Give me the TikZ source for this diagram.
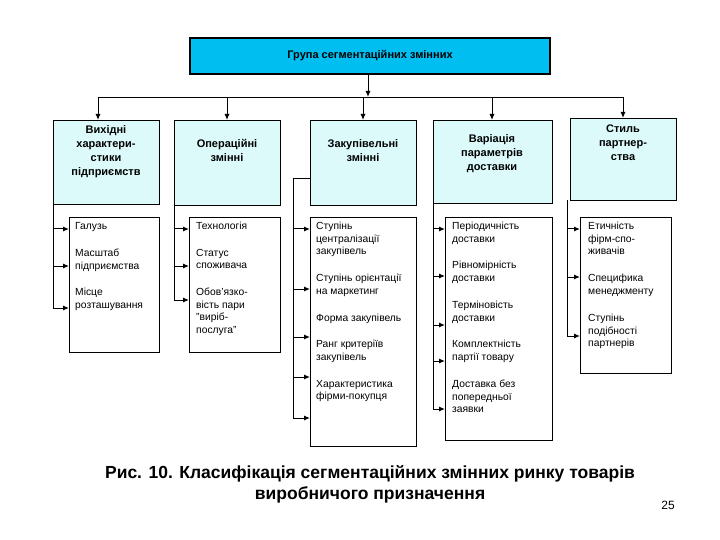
\documentclass[tikz,border=0pt]{standalone}
\usepackage{fontspec}
\setmainfont{Liberation Sans}
\usetikzlibrary{arrows.meta}
\definecolor{topc}{RGB}{0,190,240}
\definecolor{headc}{RGB}{220,250,250}
\begin{document}
\begin{tikzpicture}[x=1pt,y=-1pt,
  topbox/.style={draw,line width=1.4pt,fill=topc,minimum width=360pt,minimum height=36pt,font=\bfseries\fontsize{11}{13}\selectfont},
  headbox/.style={draw,fill=headc,line width=0.5pt,anchor=north west},
  htext/.style={anchor=north,align=center,font=\bfseries\fontsize{11}{14}\selectfont,inner sep=0pt},
  detbox/.style={draw,line width=0.5pt,anchor=north west},
  item/.style={anchor=north west,align=left,font=\fontsize{10.3}{12.5}\selectfont,inner sep=0pt},
  arr/.style={-{Latex[length=6pt,width=5pt]},line width=1pt},
  ln/.style={line width=0.8pt}]
\useasboundingbox (0,0) rectangle (720,540);
\node[topbox] (top) at (370,56) {Група сегментаційних змінних};
% header boxes
\node[headbox,minimum width=106pt,minimum height=84pt] (h1) at (53,120) {};
\node[headbox,minimum width=106pt,minimum height=85pt] (h2) at (174,120) {};
\node[headbox,minimum width=106pt,minimum height=85pt] (h3) at (310,120) {};
\node[headbox,minimum width=119pt,minimum height=83pt] (h4) at (433,120) {};
\node[headbox,minimum width=106pt,minimum height=82pt] (h5) at (570,118) {};
\node[htext] (ht1) at (106,125) {Вихідні\\характери-\\стики\\підприємств};
\node[htext] (ht2) at (227,139) {Операційні\\змінні};
\node[htext] (ht3) at (363,139) {Закупівельні\\змінні};
\node[htext] (ht4) at (492,134) {Варіація\\параметрів\\доставки};
\node[htext] (ht5) at (623,125) {Стиль\\партнер-\\ства};
% bus
\coordinate (bl) at (98,97);
\coordinate (br) at (623,97);
\coordinate (bm) at (368,97);
\draw[arr] (top.south -| bm) -- (bm);
\draw[ln] (bl) -- (br);
\draw[arr] (bl) -- (h1.north -| bl);
\draw[arr] (227,97) -- (h2.north -| 227,0);
\draw[arr] (363,97) -- (h3.north -| 363,0);
\draw[arr] (492,97) -- (h4.north -| 492,0);
\draw[arr] (br) -- (h5.north -| br);
% detail boxes
\node[detbox,minimum width=90pt,minimum height=135pt] (d1) at (69,217) {};
\node[detbox,minimum width=91pt,minimum height=135pt] (d2) at (189,217) {};
\node[detbox,minimum width=106pt,minimum height=229pt] (d3) at (310,217) {};
\node[detbox,minimum width=107pt,minimum height=223pt] (d4) at (445,217) {};
\node[detbox,minimum width=91pt,minimum height=156pt] (d5) at (580,217) {};
% column 1
\draw[ln] (53,204) -- (53,308);
\foreach \y in {229,266,308} \draw[arr] (53,\y) -- (69,\y);
\node[item] (t11) at (75,222) {Галузь};
\node[item] (t12) at (75,249) {Масштаб\\підприємства};
\node[item] (t13) at (75,288) {Місце\\розташування};
% column 2
\draw[ln] (174,205) -- (174,300);
\foreach \y in {229,266,300} \draw[arr] (174,\y) -- (189,\y);
\node[item] (t21) at (196,222) {Технологія};
\node[item] (t22) at (196,249) {Статус\\споживача};
\node[item] (t23) at (196,288) {Обов'язко-\\вість пари\\"виріб-\\послуга"};
% column 3
\draw[ln] (310,178) -- (293,178) -- (293,418);
\foreach \y in {229,289,337,377,418} \draw[arr] (293,\y) -- (310,\y);
\node[item] (t31) at (316,222) {Ступінь\\централізації\\закупівель};
\node[item] (t32) at (316,274) {Ступінь орієнтації\\на маркетинг};
\node[item] (t33) at (316,314) {Форма закупівель};
\node[item] (t34) at (316,340) {Ранг критеріїв\\закупівель};
\node[item] (t35) at (316,380) {Характеристика\\фірми-покупця};
% column 4
\draw[ln] (433,203) -- (433,409);
\foreach \y in {229,276,325,361,409} \draw[arr] (433,\y) -- (445,\y);
\node[item] (t41) at (452,222) {Періодичність\\доставки};
\node[item] (t42) at (452,261) {Рівномірність\\доставки};
\node[item] (t43) at (452,301) {Терміновість\\доставки};
\node[item] (t44) at (452,340) {Комплектність\\партії товару};
\node[item] (t45) at (452,380) {Доставка без\\попередньої\\заявки};
% column 5
\draw[ln] (567,200) -- (567,336);
\foreach \y in {229,277,336} \draw[arr] (567,\y) -- (580,\y);
\node[item] (t51) at (588,222) {Етичність\\фірм-спо-\\живачів};
\node[item] (t52) at (588,274) {Специфика\\менеджменту};
\node[item] (t53) at (588,314) {Ступінь\\подібності\\партнерів};
% caption
\node[font=\bfseries\fontsize{17.5}{21}\selectfont,align=center] (cap) at (370,484) {Рис. 10. Класифікація сегментаційних змінних ринку товарів\\виробничого призначення};
\node[font=\fontsize{12}{14}\selectfont] (pg) at (668,505) {25};
\end{tikzpicture}
\end{document}
